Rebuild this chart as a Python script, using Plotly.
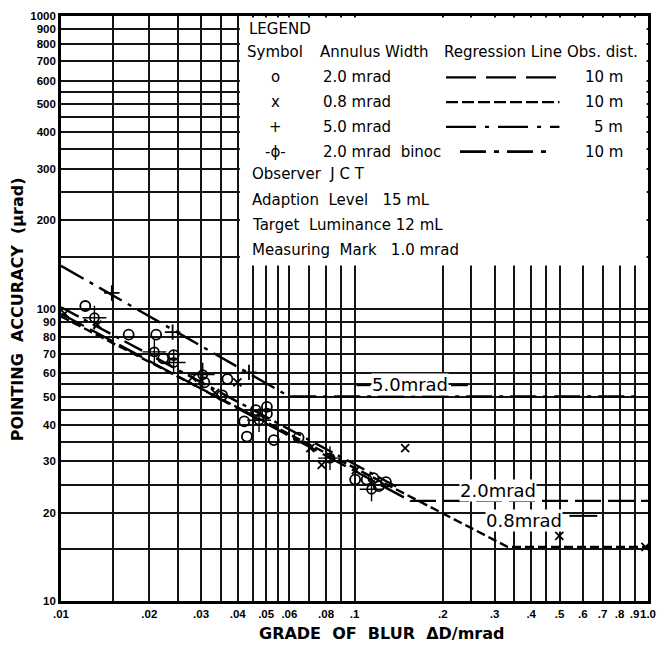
import plotly.graph_objects as go

# ---------------- axis grid / tick labels ----------------
X_GRID = [0.01, 0.015, 0.02, 0.025, 0.03, 0.035, 0.04, 0.045, 0.05, 0.055, 0.06, 0.07, 0.08, 0.09,
          0.1, 0.2, 0.25, 0.3, 0.35, 0.4, 0.45, 0.5, 0.6, 0.7, 0.8, 0.9, 1.0]
X_TICKTEXT = [".01", "", ".02", "", ".03", "", ".04", "", ".05", "", ".06", "", ".08", "",
              ".1", ".2", "", ".3", "", ".4", "", ".5", ".6", ".7", ".8", ".9", "1.0"]
Y_GRID = [10, 15, 20, 25, 30, 35, 40, 45, 50, 55, 60, 70, 80, 90, 100, 150, 200, 250, 300, 350,
          400, 450, 500, 550, 600, 700, 800, 900, 1000]
Y_TICKTEXT = ["10", "", "20", "", "30", "", "40", "", "50", "", "60", "70", "80", "90", "100", "",
              "200", "", "300", "", "400", "", "500", "", "600", "700", "800", "900", "1000"]

# ---------------- data: symbols ----------------
# o : 2.0 mrad annulus, 10 m
CIRC_X = [0.0121, 0.0170, 0.0211, 0.0223, 0.0242, 0.0308, 0.0354, 0.0369, 0.0421, 0.0430,
          0.0461, 0.0503, 0.0503, 0.0531, 0.0645, 0.1005, 0.1100, 0.1160, 0.1210, 0.1280]
CIRC_Y = [102, 81.4, 81.4, 67.5, 69.3, 55.9, 50.5, 57.4, 41.1, 36.5,
          44.9, 46.1, 43.7, 35.5, 36.2, 26.0, 26.0, 26.3, 24.7, 25.5]
# x : 0.8 mrad annulus, 10 m
XS_X = [0.0103, 0.0133, 0.0280, 0.0335, 0.0399, 0.0707, 0.0773, 0.1010, 0.1488, 0.4986, 0.9800]
XS_Y = [96, 88, 58, 51.5, 55.9, 33.3, 29.2, 28.0, 33.3, 16.7, 15.3]
# + : 5.0 mrad annulus, 5 m
PLUS_X = [0.0149, 0.0240, 0.0437]
PLUS_Y = [113, 83, 60.5]
# -o- : 2.0 mrad binocular, 10 m
BIN_X = [0.0130, 0.0208, 0.0242, 0.0304, 0.0473, 0.0825, 0.1143]
BIN_Y = [93, 71.1, 65.4, 59.4, 41.5, 30.8, 24.1]

# ---------------- regression lines ----------------
R20_X = [0.01, 0.155, 1.0]
R20_Y = [96, 22, 22]
R08_X = [0.01, 0.333, 1.0]
R08_Y = [94, 15.3, 15.3]
R50_X = [0.01, 0.06, 0.95]
R50_Y = [140, 50, 50]
RBI_X = [0.01, 0.14]
RBI_Y = [101, 24.5]

DASH_20 = "26px,7px"
DASH_08 = "9px,4px"
DASH_50 = "26px,7px,4px,7px"
DASH_BI = "20px,6px,4px,6px"

# ---------------- layout helpers (pixel -> paper) ----------------
L, T, W, H = 61, 10, 590, 591
def px(x):
    return (x - L) / W
def py(y):
    return (T + H - y) / H

fig = go.Figure()

def add_line(xs, ys, dash):
    fig.add_trace(go.Scatter(x=xs, y=ys, mode="lines",
                             line=dict(color="black", width=2.4, dash=dash),
                             hoverinfo="skip"))

add_line(R50_X, R50_Y, DASH_50)
add_line(R20_X, R20_Y, DASH_20)
add_line(R08_X, R08_Y, DASH_08)
add_line(RBI_X, RBI_Y, DASH_BI)

def add_markers(xs, ys, symbol, size, width=1.8):
    fig.add_trace(go.Scatter(x=xs, y=ys, mode="markers",
                             marker=dict(symbol=symbol, size=size, color="black",
                                         line=dict(color="black", width=width)),
                             hoverinfo="skip"))

add_markers(CIRC_X, CIRC_Y, "circle-open", 10)
add_markers(XS_X, XS_Y, "x-thin-open", 8)
add_markers(PLUS_X, PLUS_Y, "cross-thin-open", 11)
add_markers(BIN_X, BIN_Y, "circle-open", 9)
add_markers(BIN_X, BIN_Y, "cross-thin-open", 17, 1.4)

# ---------------- annotations ----------------
LEG = dict(family="DejaVu Sans", size=15, color="black")
ann = []
def text(x, y, s, anchor="left", font=LEG, bg=None):
    d = dict(x=px(x), y=py(y), xref="paper", yref="paper", text=s, showarrow=False,
             xanchor=anchor, yanchor="middle", font=font)
    if bg:
        d.update(bgcolor=bg, borderpad=0)
    ann.append(d)

text(248, 23, "LEGEND")
text(246, 46, "Symbol")
text(319, 46, "Annulus Width")
text(444, 46, "Regression Line")
text(568, 46, "Obs. dist.")

ROW_Y = [72, 97, 122, 147]
SYMS = ["o", "x", "+", "-ϕ-"]
ANNULUS = ["2.0 mrad", "0.8 mrad", "5.0 mrad", "2.0 mrad  binoc"]
DISTS = ["10 m", "10 m", "5 m", "10 m"]
for yy, s, a, d in zip(ROW_Y, SYMS, ANNULUS, DISTS):
    text(277, yy, s, anchor="center")
    text(322, yy, a)
    text(628, yy, d, anchor="right")

text(251, 170, "Observer  J C T")
text(251, 196, "Adaption  Level   15 mL")
text(251, 221, "Target  Luminance 12 mL")
text(251, 246, "Measuring  Mark   1.0 mrad")

LBL = dict(family="DejaVu Sans", size=18, color="black")
text(412, 382, "5.0mrad", anchor="center", font=LBL, bg="white")
text(500, 489, "2.0mrad", anchor="center", font=LBL, bg="white")
text(526, 520, "0.8mrad", anchor="center", font=LBL, bg="white")

TITLE = dict(family="DejaVu Sans", size=16, color="black", weight="bold")
ann.append(dict(x=px(18), y=py(306), xref="paper", yref="paper",
                text="POINTING  ACCURACY  (μrad)", textangle=-90, showarrow=False,
                xanchor="center", yanchor="middle", font=TITLE))
ann.append(dict(x=px(383), y=py(634), xref="paper", yref="paper",
                text="GRADE  OF  BLUR  ΔD/mrad", showarrow=False,
                xanchor="center", yanchor="middle", font=TITLE))

# ---------------- shapes: legend box and legend line samples ----------------
shapes = []
shapes.append(dict(type="rect", xref="paper", yref="paper", x0=px(240.8), x1=px(649.6),
                   y0=py(262), y1=py(11.4), fillcolor="white", line=dict(width=0), layer="above"))

def seg(x0, x1, y, dash, width=2.4):
    shapes.append(dict(type="line", xref="paper", yref="paper", x0=px(x0), x1=px(x1),
                       y0=py(y), y1=py(y), line=dict(color="black", width=width, dash=dash),
                       layer="above"))

seg(448, 562, 72, "30px,10px")
seg(448, 562, 97, "12px,4px")
seg(448, 562, 122, "30px,9px,4px,9px")
seg(462, 555, 147, "26px,8px,5px,8px", 2.6)

# leader dashes by the in-plot labels
seg(358, 372, 383, "solid", 2)
seg(453, 470, 383, "solid", 2)
seg(572, 600, 515, "solid", 2)

AX_FONT = dict(family="Liberation Sans", size=11.5, color="black", weight="bold")
common = dict(type="log", showgrid=True, gridcolor="#141414", gridwidth=1.8, ticks="",
              showline=True, mirror=True, linecolor="black", linewidth=2.6, zeroline=False,
              tickfont=AX_FONT, tickangle=0)

fig.update_layout(
    width=666, height=656,
    margin=dict(l=L, r=666 - L - W, t=T, b=656 - T - H),
    paper_bgcolor="white", plot_bgcolor="white",
    showlegend=False,
    xaxis=dict(range=[-2, 0], tickvals=X_GRID, ticktext=X_TICKTEXT, **common),
    yaxis=dict(range=[1, 3], tickvals=Y_GRID, ticktext=Y_TICKTEXT, **common),
    annotations=ann, shapes=shapes,
)

fig.write_html("out.html")
